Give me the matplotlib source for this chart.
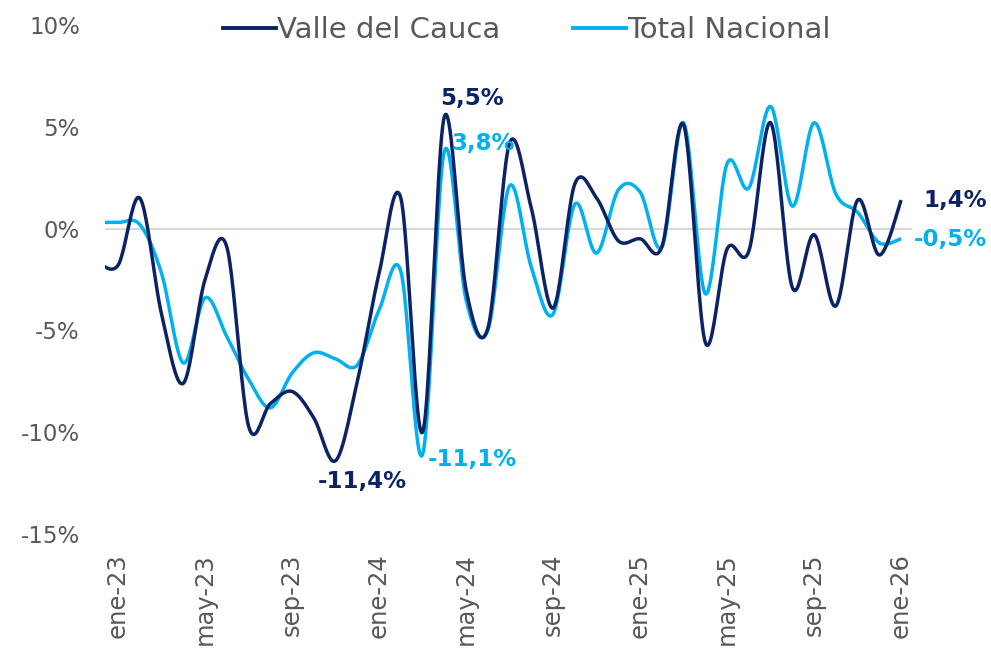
import numpy as np
import matplotlib
matplotlib.use("Agg")
import matplotlib.pyplot as plt
from matplotlib.lines import Line2D

# ---------------- data ----------------
months = ["dic-22",
          "ene-23", "feb-23", "mar-23", "abr-23", "may-23", "jun-23", "jul-23", "ago-23", "sep-23", "oct-23", "nov-23", "dic-23",
          "ene-24", "feb-24", "mar-24", "abr-24", "may-24", "jun-24", "jul-24", "ago-24", "sep-24", "oct-24", "nov-24", "dic-24",
          "ene-25", "feb-25", "mar-25", "abr-25", "may-25", "jun-25", "jul-25", "ago-25", "sep-25", "oct-25", "nov-25", "dic-25",
          "ene-26"]
valle = [-1.6,
         -1.8, 1.5, -4.2, -7.6, -2.5, -0.9, -9.7, -8.6, -8.0, -9.3, -11.4, -7.5,
         -2.2, 1.5, -10.0, 5.5, -3.0, -4.9, 4.2, 1.0, -3.9, 2.2, 1.5, -0.6,
         -0.5, -0.9, 5.1, -5.6, -1.0, -1.1, 5.2, -2.9, -0.3, -3.8, 1.4, -1.3,
         1.4]
nacional = [0.3,
            0.3, 0.2, -2.2, -6.6, -3.4, -5.3, -7.4, -8.8, -7.1, -6.1, -6.4, -6.7,
            -4.0, -2.1, -11.1, 3.8, -3.5, -5.0, 2.1, -1.9, -4.2, 1.2, -1.2, 1.9,
            1.8, -0.9, 5.2, -3.2, 3.2, 2.0, 6.0, 1.1, 5.2, 1.7, 0.8, -0.7,
            -0.5]
tick_labels = ["ene-23", "may-23", "sep-23", "ene-24", "may-24", "sep-24",
               "ene-25", "may-25", "sep-25", "ene-26"]
series_names = ["Valle del Cauca", "Total Nacional"]
ann_valle = [("5,5%", "abr-24"), ("-11,4%", "nov-23"), ("1,4%", "ene-26")]
ann_nac = [("3,8%", "abr-24"), ("-11,1%", "mar-24"), ("-0,5%", "ene-26")]

DARK = "#0B2265"
LIGHT = "#00B0F0"
GRAY = "#595959"
FONT = ["DejaVu Sans"]

x = np.arange(len(months)) - 1  # ene-23 -> 0


def smooth(xs, ys, n=24):
    """Excel-like smoothed line (cubic Bezier, Catmull-Rom tangents /6)."""
    xs = np.asarray(xs, float)
    ys = np.asarray(ys, float)
    P = np.column_stack([xs, ys])
    out = [P[0]]
    t = np.linspace(0, 1, n)[1:]
    for i in range(len(P) - 1):
        p0 = P[i - 1] if i > 0 else P[i]
        p1 = P[i]
        p2 = P[i + 1]
        p3 = P[i + 2] if i + 2 < len(P) else P[i + 1]
        c1 = p1 + (p2 - p0) / 6.0
        c2 = p2 - (p3 - p1) / 6.0
        seg = ((1 - t) ** 3)[:, None] * p1 + (3 * (1 - t) ** 2 * t)[:, None] * c1 \
            + (3 * (1 - t) * t ** 2)[:, None] * c2 + (t ** 3)[:, None] * p2
        out.extend(seg)
    out = np.array(out)
    return out[:, 0], out[:, 1]


fig = plt.figure(figsize=(9.91, 6.5), dpi=100)
ax = fig.add_axes([105 / 991, 1 - 534 / 650, (912 - 105) / 991, (534 - 25) / 650])

ax.axhline(0, color="#D9D9D9", lw=1.6, zorder=1)

sx, sy = smooth(x, valle)
ax.plot(sx, sy, color=DARK, lw=2.5, zorder=3, solid_capstyle="butt")
sx, sy = smooth(x, nacional)
ax.plot(sx, sy, color=LIGHT, lw=2.5, zorder=2, solid_capstyle="butt")

ax.set_xlim(-0.6, 36.5)
ax.set_ylim(-15, 10)
ax.set_yticks([-15, -10, -5, 0, 5, 10])
ax.set_yticklabels(["-15%", "-10%", "-5%", "0%", "5%", "10%"])
tick_pos = [months.index(m) - 1 for m in tick_labels]
ax.set_xticks(tick_pos)
ax.set_xticklabels(tick_labels, rotation=90)
ax.tick_params(axis="both", length=0, colors=GRAY, labelsize=16.5)
ax.tick_params(axis="y", pad=18)
ax.tick_params(axis="x", pad=14)
for lab in ax.get_xticklabels() + ax.get_yticklabels():
    lab.set_family(FONT)
    lab.set_color(GRAY)
for lab in ax.get_xticklabels():
    lab.set_fontsize(17.5)
for s in ax.spines.values():
    s.set_visible(False)

# annotations
offs_v = {"5,5%": (28, 18), "-11,4%": (27, -21), "1,4%": (54, 0)}
offs_n = {"3,8%": (39, 8), "-11,1%": (50, -5), "-0,5%": (49, -1)}
for txt, m in ann_valle:
    i = months.index(m)
    ax.annotate(txt, xy=(x[i], valle[i]), xytext=offs_v[txt], textcoords="offset pixels",
                ha="center", va="center", color=DARK, fontsize=16.5, fontweight="bold",
                family=FONT, annotation_clip=False, zorder=5)
for txt, m in ann_nac:
    i = months.index(m)
    ax.annotate(txt, xy=(x[i], nacional[i]), xytext=offs_n[txt], textcoords="offset pixels",
                ha="center", va="center", color=LIGHT, fontsize=16.5, fontweight="bold",
                family=FONT, annotation_clip=False, zorder=5)

handles = [Line2D([], [], color=DARK, lw=2.8), Line2D([], [], color=LIGHT, lw=2.8)]
leg = fig.legend(handles, series_names, loc="center", bbox_to_anchor=(527 / 991, 1 - 30 / 650),
                 ncol=2, frameon=False, handlelength=1.8, handletextpad=0.05, columnspacing=2.5,
                 prop={"family": FONT, "size": 21})
for t in leg.get_texts():
    t.set_color(GRAY)

fig.savefig("out.png", dpi=100)
